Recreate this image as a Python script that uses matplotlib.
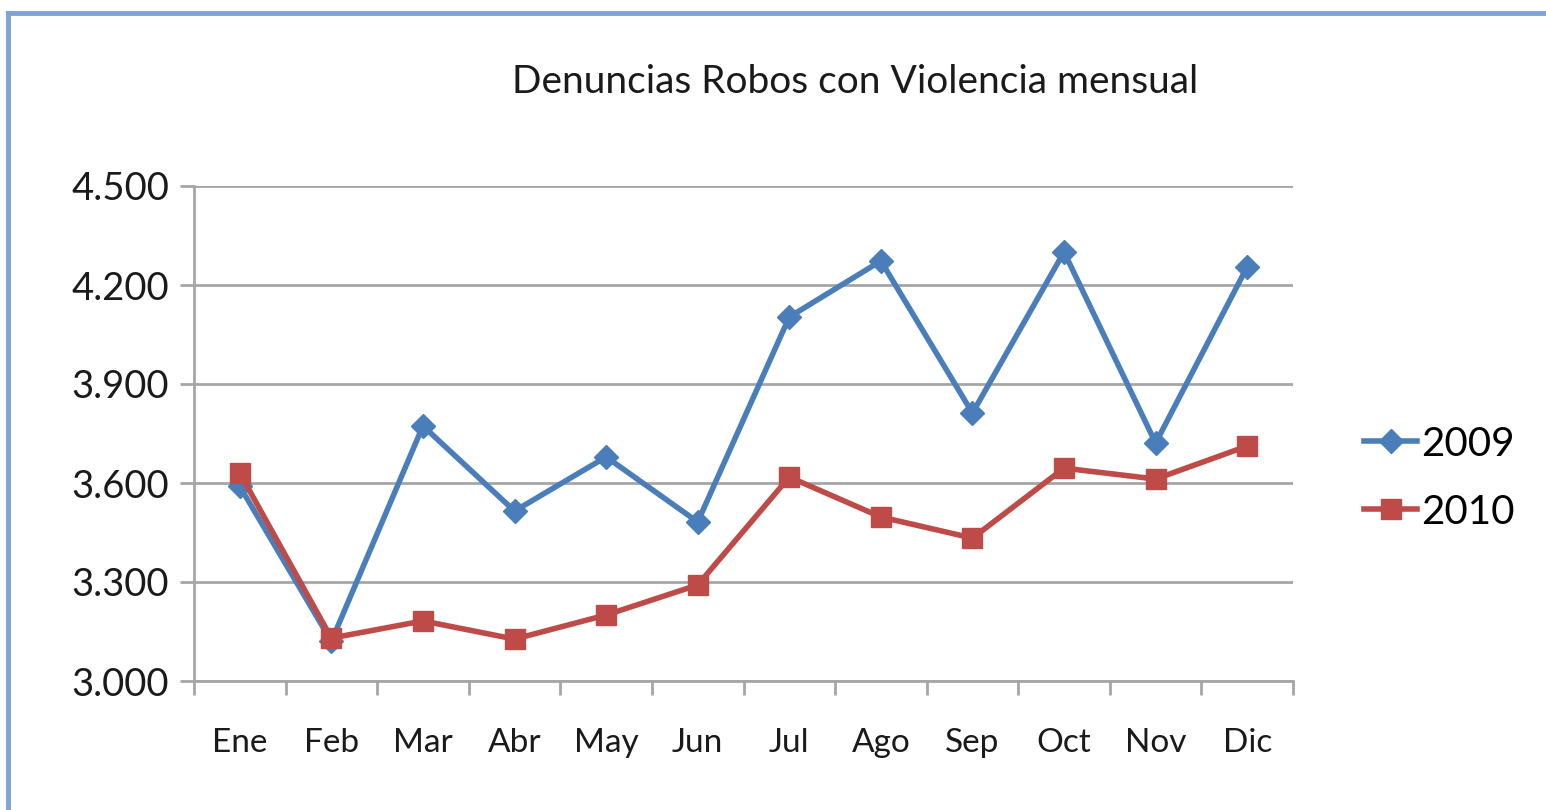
import matplotlib
matplotlib.use("Agg")
import matplotlib.pyplot as plt
from matplotlib.lines import Line2D

months = ["Ene", "Feb", "Mar", "Abr", "May", "Jun", "Jul", "Ago", "Sep", "Oct", "Nov", "Dic"]
s2009 = [3590, 3120, 3773, 3515, 3679, 3482, 4103, 4273, 3812, 4300, 3721, 4255]
s2010 = [3630, 3130, 3182, 3127, 3200, 3291, 3618, 3497, 3433, 3645, 3612, 3712]
yticks = [3000, 3300, 3600, 3900, 4200, 4500]
ytick_labels = ["3.000", "3.300", "3.600", "3.900", "4.200", "4.500"]

plt.rcParams['font.family'] = ['Lato', 'DejaVu Sans']

fig = plt.figure(figsize=(15.46, 8.10), dpi=100)
ax = fig.add_axes([194/1546, 1-681/810, (1293-194)/1546, (681-186)/810])

x = list(range(len(months)))
blue = "#4A7EBB"
red = "#BE4B48"
ax.plot(x, s2009, color=blue, lw=4, marker="D", ms=12, mec=blue, label="2009", zorder=3)
ax.plot(x, s2010, color=red, lw=4, marker="s", ms=14, mec=red, label="2010", zorder=4)

ax.set_xlim(-0.5, 11.5)
ax.set_ylim(3000, 4500)
ax.set_yticks(yticks)
ax.set_yticklabels(ytick_labels)
ax.set_xticks(x)
ax.set_xticklabels(months)
ax.set_xticks([i - 0.5 for i in range(13)], minor=True)
ax.tick_params(axis="x", which="major", length=0, pad=34, labelsize=24, colors="#1a1a1a")
ax.tick_params(axis="x", which="minor", length=10, width=2, color="#A6A6A6", direction="out")
ax.tick_params(axis="y", length=10, width=2, color="#A6A6A6", pad=8, labelsize=27.5, labelcolor="#1a1a1a")
ax.yaxis.grid(True, color="#A6A6A6", lw=2)
ax.set_axisbelow(True)
for s in ["top", "right"]:
    ax.spines[s].set_visible(False)
for s in ["left", "bottom"]:
    ax.spines[s].set_color("#A6A6A6")
    ax.spines[s].set_linewidth(2)

leg = ax.legend(loc="center left", bbox_to_anchor=(1.032, 0.41), frameon=False,
                fontsize=29, handlelength=1.3, handletextpad=0.1, labelspacing=0.77)

fig.text(855/1546, 1-82/810, "Denuncias Robos con Violencia mensual", ha="center", va="center",
         fontsize=28, color="#1a1a1a")

# outer frame (partially visible)
fig.add_artist(Line2D([8/1546, 1.0], [1-13/810, 1-13/810], transform=fig.transFigure,
                      color="#7FA3D6", lw=3.5))
fig.add_artist(Line2D([8/1546, 8/1546], [0, 1-13/810], transform=fig.transFigure,
                      color="#7FA3D6", lw=3.5))

fig.savefig("out.png", dpi=100)
